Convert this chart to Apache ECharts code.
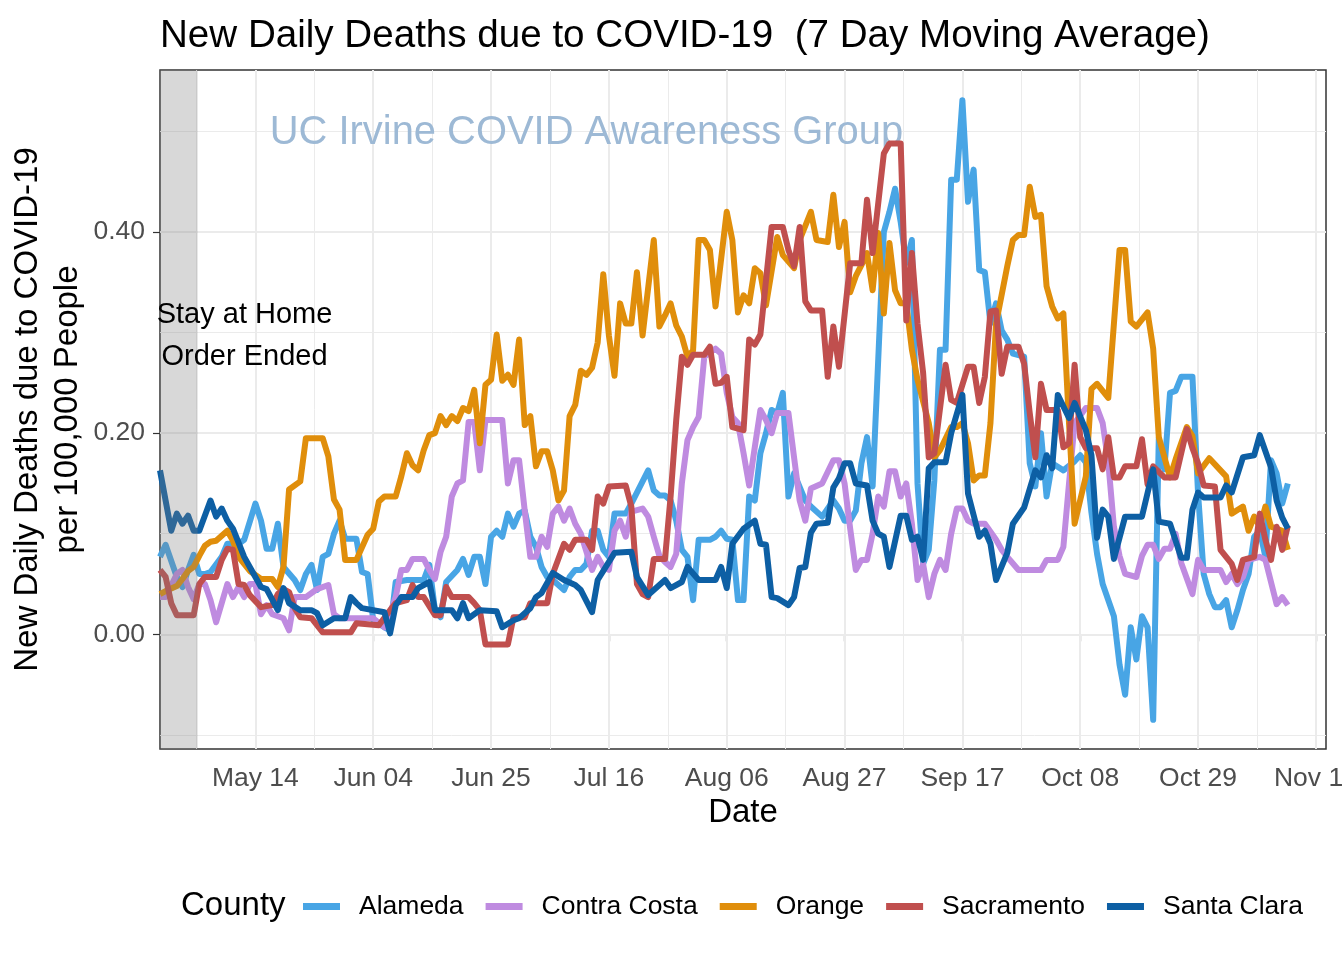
<!DOCTYPE html>
<html><head><meta charset="utf-8">
<script src="https://cdn.jsdelivr.net/npm/echarts@6/dist/echarts.min.js"></script>
<style>html,body{margin:0;padding:0;background:#fff}#c{width:1344px;height:960px}</style>
</head><body><div id="c"></div>
<script>
// x values are days since 2020-04-27
const startDate = '2020-04-27';
const tickDays = [17, 38, 59, 80, 101, 122, 143, 164, 185, 206];
const tickLabels = ['May 14', 'Jun 04', 'Jun 25', 'Jul 16', 'Aug 06', 'Aug 27', 'Sep 17', 'Oct 08', 'Oct 29', 'Nov 19'];
const minorTickDays = [6.5, 27.5, 48.5, 69.5, 90.5, 111.5, 132.5, 153.5, 174.5, 195.5];
const yTicks = [0, 0.2, 0.4];
const yMinorTicks = [-0.1, 0.1, 0.3, 0.5];
const counties = ['Alameda', 'Contra Costa', 'Orange', 'Sacramento', 'Santa Clara'];
const countyColors = ['#48A5E5', '#BF8BE0', '#E08E0B', '#C04F4E', '#0D5FA4'];
const stayHomeBand = [0, 6.7];
const stayHomeLabelAt = [15.06, 0.2965];
const watermarkAt = [76.0, 0.4985];

const alameda = [[0,0.077],[1,0.089],[3,0.057],[4,0.047],[5,0.064],[6,0.079],[7,0.06],[8,0.06],[9,0.062],[11,0.077],[12,0.09],[14,0.09],[15,0.094],[17,0.13],[18,0.113],[19,0.085],[20,0.085],[21,0.11],[22,0.067],[24,0.054],[25,0.044],[26,0.06],[27,0.069],[28,0.044],[29,0.077],[30,0.08],[31,0.1],[32,0.113],[33,0.095],[35,0.095],[36,0.062],[37,0.06],[38,0.014],[40,0.007],[41,0.004],[42,0.052],[44,0.054],[47,0.054],[48,0.069],[49,0.024],[50,0.017],[51,0.052],[53,0.064],[54,0.075],[55,0.059],[56,0.077],[57,0.077],[58,0.05],[59,0.097],[60,0.103],[61,0.097],[62,0.12],[63,0.107],[64,0.12],[65,0.123],[66,0.097],[67,0.087],[68,0.067],[69,0.057],[70,0.054],[72,0.044],[73,0.057],[74,0.064],[75,0.064],[76,0.07],[77,0.103],[78,0.103],[79,0.084],[80,0.077],[81,0.12],[83,0.12],[84,0.13],[87,0.163],[88,0.143],[89,0.138],[90,0.138],[91,0.133],[92,0.113],[93,0.084],[94,0.077],[95,0.034],[96,0.094],[98,0.094],[99,0.097],[100,0.103],[101,0.095],[102,0.094],[103,0.034],[104,0.034],[105,0.137],[106,0.133],[107,0.18],[108,0.2],[109,0.223],[110,0.22],[111,0.24],[112,0.137],[113,0.16],[115,0.133],[116,0.127],[118,0.117],[120,0.133],[121,0.125],[122,0.113],[123,0.113],[124,0.123],[125,0.17],[126,0.196],[127,0.147],[128,0.273],[129,0.4],[130,0.42],[131,0.443],[132,0.41],[133,0.369],[134,0.392],[135,0.15],[136,0.07],[137,0.084],[138,0.153],[139,0.283],[140,0.283],[141,0.452],[142,0.452],[143,0.531],[144,0.43],[145,0.462],[146,0.362],[147,0.36],[148,0.309],[149,0.329],[150,0.302],[151,0.293],[152,0.279],[154,0.276],[155,0.17],[156,0.147],[157,0.2],[158,0.137],[159,0.17],[161,0.163],[163,0.172],[164,0.178],[165,0.171],[166,0.121],[167,0.08],[168,0.05],[170,0.018],[171,-0.03],[172,-0.06],[173,0.007],[174,-0.025],[175,0.018],[176,0.007],[177,-0.085],[178,0.195],[179,0.164],[180,0.24],[181,0.242],[182,0.256],[184,0.256],[185,0.14],[186,0.06],[187,0.04],[188,0.027],[189,0.027],[190,0.034],[191,0.007],[192,0.024],[193,0.044],[194,0.06],[195,0.097],[196,0.103],[197,0.077],[198,0.173],[199,0.16],[200,0.13],[201,0.15]];

const contraCosta = [[0,0.037],[1,0.037],[3,0.06],[4,0.064],[5,0.047],[6,0.035],[7,0.05],[8,0.05],[9,0.034],[10,0.012],[11,0.031],[12,0.05],[13,0.037],[14,0.047],[15,0.037],[16,0.05],[17,0.05],[18,0.02],[19,0.029],[20,0.02],[22,0.016],[23,0.004],[24,0.037],[26,0.037],[28,0.045],[30,0.049],[31,0.02],[32,0.016],[38,0.016],[40,0.007],[41,0.021],[42,0.037],[43,0.064],[44,0.064],[45,0.075],[47,0.075],[48,0.064],[49,0.055],[50,0.082],[51,0.097],[52,0.137],[53,0.15],[54,0.153],[55,0.211],[56,0.211],[57,0.163],[58,0.213],[61,0.213],[62,0.15],[63,0.173],[64,0.173],[65,0.123],[66,0.077],[67,0.077],[68,0.097],[69,0.087],[70,0.12],[71,0.127],[72,0.113],[73,0.125],[74,0.11],[75,0.1],[77,0.064],[78,0.077],[79,0.067],[80,0.064],[81,0.103],[82,0.113],[83,0.097],[84,0.122],[86,0.125],[87,0.117],[88,0.097],[89,0.078],[90,0.072],[91,0.067],[92,0.08],[93,0.15],[94,0.193],[95,0.206],[96,0.216],[97,0.276],[99,0.284],[100,0.279],[101,0.24],[102,0.216],[103,0.21],[104,0.18],[105,0.148],[106,0.186],[107,0.223],[108,0.213],[109,0.2],[110,0.22],[112,0.22],[113,0.176],[114,0.133],[115,0.113],[116,0.145],[118,0.15],[120,0.173],[121,0.173],[122,0.15],[123,0.105],[124,0.064],[125,0.074],[126,0.074],[127,0.1],[128,0.137],[129,0.127],[130,0.162],[131,0.162],[132,0.137],[133,0.15],[134,0.11],[135,0.054],[136,0.07],[137,0.037],[138,0.06],[139,0.074],[140,0.064],[141,0.1],[142,0.125],[143,0.125],[144,0.113],[145,0.11],[147,0.11],[149,0.094],[150,0.084],[151,0.077],[153,0.064],[157,0.064],[158,0.074],[160,0.074],[161,0.087],[162,0.15],[163,0.21],[165,0.225],[167,0.225],[168,0.21],[169,0.171],[170,0.107],[171,0.078],[172,0.06],[174,0.057],[175,0.078],[176,0.089],[177,0.089],[178,0.075],[179,0.085],[180,0.085],[181,0.1],[182,0.071],[184,0.04],[185,0.074],[186,0.064],[189,0.064],[190,0.052],[191,0.06],[192,0.05],[193,0.057],[194,0.074],[196,0.077],[197,0.074],[199,0.03],[200,0.037],[201,0.029]];

const orange = [[0,0.04],[1,0.043],[3,0.048],[4,0.055],[5,0.063],[6,0.067],[7,0.078],[8,0.088],[9,0.092],[10,0.093],[12,0.103],[13,0.093],[14,0.077],[16,0.063],[18,0.055],[20,0.055],[21,0.047],[22,0.067],[23,0.144],[25,0.152],[26,0.195],[29,0.195],[30,0.177],[31,0.134],[32,0.124],[33,0.074],[35,0.074],[37,0.099],[38,0.105],[39,0.132],[40,0.137],[42,0.137],[43,0.157],[44,0.18],[45,0.168],[46,0.163],[47,0.183],[48,0.198],[49,0.2],[50,0.217],[51,0.208],[52,0.217],[53,0.212],[54,0.225],[55,0.222],[56,0.243],[57,0.19],[58,0.248],[59,0.253],[60,0.298],[61,0.252],[62,0.258],[63,0.248],[64,0.293],[65,0.208],[66,0.217],[67,0.167],[68,0.182],[69,0.182],[70,0.163],[71,0.133],[72,0.143],[73,0.217],[74,0.228],[75,0.262],[76,0.258],[77,0.265],[78,0.29],[79,0.358],[80,0.297],[81,0.257],[82,0.329],[83,0.309],[84,0.309],[85,0.36],[86,0.297],[88,0.392],[89,0.306],[90,0.317],[91,0.329],[92,0.307],[93,0.296],[94,0.276],[95,0.282],[96,0.392],[97,0.392],[98,0.382],[99,0.326],[101,0.42],[102,0.392],[103,0.32],[104,0.337],[105,0.329],[106,0.364],[107,0.359],[108,0.327],[110,0.395],[111,0.377],[113,0.364],[114,0.392],[116,0.42],[117,0.392],[119,0.39],[120,0.437],[121,0.385],[122,0.41],[123,0.34],[124,0.356],[125,0.367],[126,0.379],[127,0.342],[128,0.399],[129,0.319],[130,0.389],[131,0.342],[132,0.329],[133,0.329],[134,0.283],[135,0.253],[137,0.21],[138,0.176],[139,0.183],[141,0.206],[142,0.206],[143,0.21],[144,0.19],[145,0.153],[146,0.158],[147,0.158],[148,0.21],[149,0.309],[151,0.366],[152,0.392],[153,0.397],[154,0.397],[155,0.445],[156,0.415],[157,0.417],[158,0.346],[159,0.326],[160,0.314],[161,0.319],[162,0.21],[163,0.11],[165,0.157],[166,0.244],[167,0.249],[169,0.235],[171,0.382],[172,0.382],[173,0.311],[174,0.306],[176,0.32],[177,0.284],[178,0.196],[180,0.156],[181,0.174],[183,0.206],[184,0.197],[185,0.16],[187,0.175],[189,0.163],[190,0.157],[191,0.12],[193,0.127],[194,0.103],[195,0.117],[196,0.107],[197,0.127],[198,0.107],[200,0.103],[201,0.084]];

const sacramento = [[0,0.064],[1,0.057],[2,0.031],[3,0.019],[6,0.019],[7,0.05],[8,0.057],[10,0.057],[11,0.074],[12,0.085],[13,0.084],[14,0.05],[15,0.049],[16,0.039],[18,0.027],[20,0.029],[21,0.04],[22,0.045],[23,0.042],[24,0.026],[25,0.017],[27,0.016],[29,0.002],[34,0.002],[35,0.011],[39,0.009],[41,0.024],[42,0.031],[44,0.034],[45,0.049],[46,0.037],[47,0.037],[49,0.019],[50,0.019],[51,0.047],[52,0.037],[55,0.037],[56,0.031],[57,0.024],[58,-0.01],[62,-0.01],[63,0.017],[65,0.017],[66,0.031],[69,0.031],[70,0.06],[72,0.09],[73,0.084],[74,0.094],[76,0.094],[77,0.084],[78,0.137],[79,0.13],[80,0.147],[83,0.148],[84,0.127],[85,0.05],[86,0.04],[87,0.037],[88,0.075],[90,0.075],[91,0.137],[92,0.213],[93,0.276],[94,0.268],[95,0.278],[97,0.278],[98,0.286],[99,0.249],[100,0.25],[101,0.256],[102,0.206],[104,0.203],[105,0.293],[106,0.288],[107,0.298],[108,0.352],[109,0.405],[111,0.405],[112,0.382],[113,0.366],[114,0.405],[115,0.331],[116,0.322],[118,0.322],[119,0.256],[120,0.306],[121,0.266],[123,0.369],[125,0.369],[126,0.432],[127,0.379],[129,0.478],[130,0.488],[132,0.488],[133,0.312],[134,0.379],[135,0.309],[136,0.26],[137,0.176],[138,0.18],[140,0.268],[141,0.233],[142,0.23],[144,0.266],[145,0.266],[146,0.23],[147,0.256],[148,0.321],[149,0.322],[150,0.259],[151,0.286],[153,0.286],[154,0.269],[155,0.22],[156,0.176],[157,0.249],[158,0.223],[160,0.223],[161,0.186],[162,0.19],[163,0.268],[164,0.196],[165,0.185],[167,0.185],[168,0.164],[169,0.196],[170,0.156],[171,0.156],[172,0.167],[174,0.167],[175,0.194],[176,0.149],[177,0.167],[179,0.156],[181,0.156],[183,0.204],[184,0.185],[185,0.17],[186,0.148],[188,0.147],[189,0.084],[191,0.07],[192,0.054],[193,0.074],[195,0.077],[196,0.12],[197,0.094],[198,0.074],[199,0.107],[200,0.084],[201,0.108]];

const santaClara = [[0,0.163],[2,0.103],[3,0.12],[4,0.11],[5,0.118],[6,0.103],[7,0.103],[9,0.133],[10,0.117],[11,0.125],[12,0.113],[13,0.105],[15,0.077],[16,0.067],[18,0.047],[19,0.045],[21,0.024],[22,0.046],[23,0.031],[25,0.024],[27,0.024],[28,0.021],[29,0.009],[31,0.016],[33,0.016],[34,0.037],[35,0.031],[36,0.026],[40,0.022],[41,0.001],[42,0.029],[43,0.037],[45,0.037],[46,0.046],[48,0.052],[49,0.024],[52,0.024],[53,0.016],[54,0.031],[55,0.016],[57,0.024],[60,0.023],[61,0.007],[63,0.014],[64,0.016],[66,0.026],[67,0.037],[68,0.041],[70,0.061],[72,0.054],[74,0.049],[75,0.044],[77,0.022],[78,0.054],[81,0.081],[84,0.082],[85,0.057],[87,0.039],[90,0.054],[91,0.046],[93,0.052],[94,0.067],[96,0.054],[99,0.054],[100,0.067],[101,0.046],[102,0.09],[104,0.105],[106,0.113],[107,0.09],[108,0.089],[109,0.037],[110,0.036],[112,0.029],[113,0.037],[114,0.066],[115,0.067],[116,0.101],[117,0.11],[119,0.111],[120,0.146],[121,0.155],[122,0.17],[123,0.17],[124,0.15],[126,0.148],[127,0.113],[128,0.1],[129,0.097],[130,0.067],[132,0.118],[133,0.118],[134,0.094],[135,0.097],[136,0.074],[137,0.165],[138,0.171],[140,0.171],[141,0.2],[143,0.238],[144,0.14],[146,0.097],[147,0.103],[148,0.09],[149,0.054],[151,0.081],[152,0.11],[154,0.126],[156,0.163],[157,0.156],[158,0.178],[159,0.165],[160,0.238],[162,0.215],[163,0.23],[165,0.203],[166,0.178],[167,0.096],[168,0.124],[169,0.117],[170,0.075],[172,0.117],[175,0.117],[177,0.164],[178,0.112],[180,0.11],[182,0.076],[183,0.076],[184,0.124],[185,0.141],[186,0.136],[189,0.136],[190,0.148],[191,0.141],[193,0.176],[195,0.178],[196,0.198],[198,0.166],[199,0.133],[200,0.116],[201,0.105]];

const seriesValues = [alameda, contraCosta, orange, sacramento, santaClara];

const FONT = 'Liberation Sans, Arial, Helvetica, sans-serif';
const GRID_COLOR = '#EBEBEB';

const gridLines = []
  .concat(minorTickDays.map(d => ({ xAxis: d, lineStyle: { color: GRID_COLOR, width: 1, type: 'solid' } })))
  .concat(yMinorTicks.map(v => ({ yAxis: v, lineStyle: { color: GRID_COLOR, width: 1, type: 'solid' } })))
  .concat(tickDays.map(d => ({ xAxis: d, lineStyle: { color: GRID_COLOR, width: 2, type: 'solid' } })))
  .concat(yTicks.map(v => ({ yAxis: v, lineStyle: { color: GRID_COLOR, width: 2, type: 'solid' } })));

const chart = echarts.init(document.getElementById('c'), null, { renderer: 'canvas' });

const option = {
  animation: false,
  backgroundColor: '#ffffff',
  textStyle: { fontFamily: FONT },
  title: {
    text: 'New Daily Deaths due to COVID-19  (7 Day Moving Average)',
    left: 155, top: 12,
    textStyle: { fontSize: 38.6, fontWeight: 'normal', color: '#000', fontFamily: FONT }
  },
  grid: {
    left: 160, right: 18, top: 70, bottom: 211,
    show: true, borderColor: '#333333', borderWidth: 1.5, backgroundColor: '#ffffff',
    outerBoundsMode: 'none', containLabel: false
  },
  legend: {
    left: 303, top: 893, padding: 0,
    icon: 'rect', itemWidth: 37, itemHeight: 7, itemGap: 22,
    data: counties,
    textStyle: { fontSize: 26.5, color: '#000', fontFamily: FONT, padding: [0, 0, 0, 14] }
  },
  xAxis: {
    type: 'value', min: 0, max: 207.8,
    axisLine: { show: false },
    splitLine: { show: false },
    axisTick: { show: true, customValues: tickDays, length: 7, lineStyle: { color: '#333333', width: 1.2 } },
    axisLabel: {
      customValues: tickDays, color: '#4D4D4D', fontSize: 26.5, margin: 16, fontFamily: FONT,
      formatter: v => { const i = tickDays.indexOf(Math.round(v)); return i >= 0 ? tickLabels[i] : ''; },
      showMinLabel: true, showMaxLabel: true, hideOverlap: false
    }
  },
  yAxis: {
    type: 'value', min: -0.114, max: 0.561,
    axisLine: { show: false },
    splitLine: { show: false },
    axisTick: { show: true, customValues: yTicks, length: 7, lineStyle: { color: '#333333', width: 1.2 } },
    axisLabel: {
      customValues: yTicks, color: '#4D4D4D', fontSize: 26.5, margin: 15, fontFamily: FONT,
      formatter: v => v.toFixed(2)
    }
  },
  series: [
    {
      name: '__grid', type: 'line', data: [], silent: true, z: 1,
      markLine: { silent: true, z: 1, symbol: ['none', 'none'], label: { show: false }, animation: false, data: gridLines }
    }
  ].concat(counties.map((name, i) => ({
    name: name, type: 'line', data: seriesValues[i], z: 3,
    showSymbol: false, symbol: 'none', silent: true, clip: true,
    color: countyColors[i],
    itemStyle: { color: countyColors[i] },
    lineStyle: { width: 6, color: countyColors[i], join: 'round', cap: 'butt' },
    emphasis: { disabled: true }
  }))).concat([
    {
      name: '__band', type: 'line', data: [], silent: true, z: 10,
      markArea: {
        silent: true, z: 10,
        itemStyle: { color: 'rgba(127,127,127,0.3)' },
        label: { show: false },
        data: [[{ xAxis: stayHomeBand[0] }, { xAxis: stayHomeBand[1] }]]
      }
    }
  ])
};
chart.setOption(option);

const toPx = (x, y) => chart.convertToPixel({ xAxisIndex: 0, yAxisIndex: 0 }, [x, y]);
const wm = toPx(watermarkAt[0], watermarkAt[1]);
const st = toPx(stayHomeLabelAt[0], stayHomeLabelAt[1]);
const gridRect = chart.getModel().getComponent('grid', 0).coordinateSystem.getRect();

chart.setOption({
  graphic: [
    { type: 'text', z: 2, silent: true, x: wm[0], y: wm[1],
      style: { text: 'UC Irvine COVID Awareness Group', fill: '#9DB9D5', font: '39.9px ' + FONT, textAlign: 'center', textVerticalAlign: 'middle' } },
    { type: 'text', z: 20, silent: true, x: st[0], y: st[1],
      style: { text: 'Stay at Home\nOrder Ended', fill: '#000', font: '29px ' + FONT, textAlign: 'center', textVerticalAlign: 'middle', lineHeight: 42 } },
    { type: 'text', z: 20, silent: true, x: 48, y: gridRect.y + gridRect.height / 2, rotation: Math.PI / 2,
      style: { text: 'New Daily Deaths due to COVID-19\nper 100,000 People', fill: '#000', font: '33px ' + FONT, textAlign: 'center', textVerticalAlign: 'middle', lineHeight: 40 } },
    { type: 'text', z: 20, silent: true, x: gridRect.x + gridRect.width / 2, y: 813,
      style: { text: 'Date', fill: '#000', font: '33px ' + FONT, textAlign: 'center', textVerticalAlign: 'middle' } },
    { type: 'text', z: 20, silent: true, x: 181, y: 906,
      style: { text: 'County', fill: '#000', font: '33px ' + FONT, textAlign: 'left', textVerticalAlign: 'middle' } }
  ]
});
</script>
</body></html>
